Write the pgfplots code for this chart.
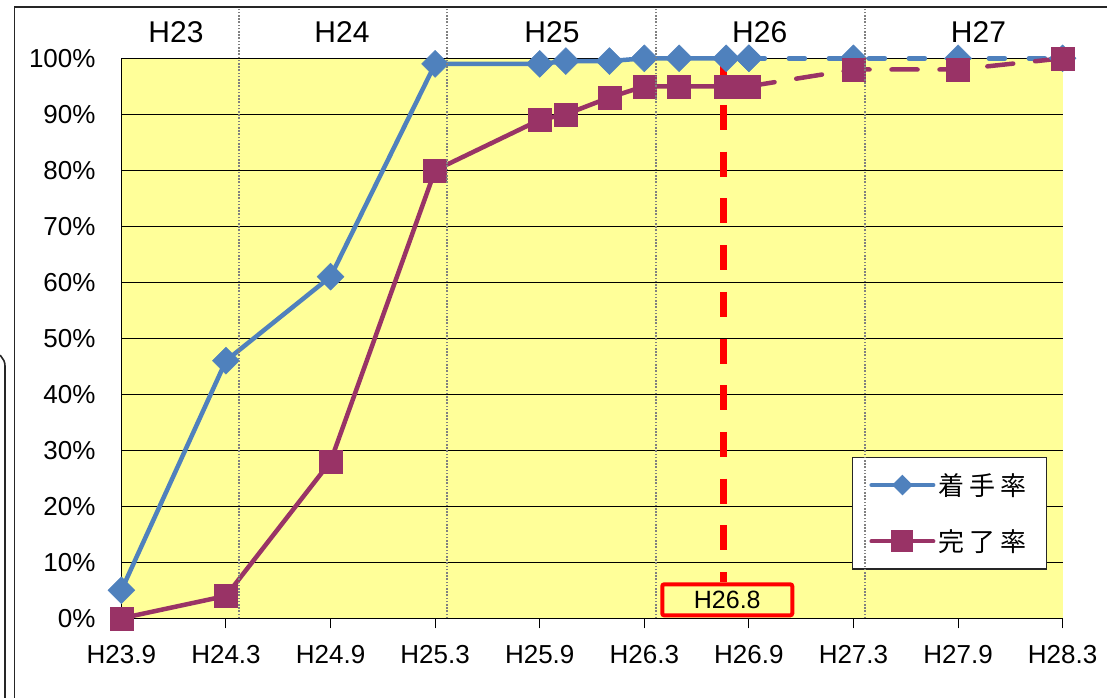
\documentclass[border=0pt]{standalone}
\usepackage{fontspec}
\setmainfont{Liberation Sans}
\newfontfamily\jpfont{Noto Sans CJK JP}
\usepackage{pgfplots}
\pgfplotsset{compat=1.18}

\definecolor{plotbg}{HTML}{FFFF99}
\definecolor{startc}{HTML}{4F81BD}
\definecolor{donec}{HTML}{993366}
\definecolor{framec}{HTML}{262626}

% x = months counted from H23.9
\pgfplotstableread{
m     rate
0     5
6     46
12    61
18    99
24    99
25.5  99.5
28    99.5
30    100
32    100
34.7  100
36    100
}\startdone
\pgfplotstableread{
m     rate
36    100
42    100
48    100
54    100
}\startplan
\pgfplotstableread{
m     rate
0     0
6     4
12    28
18    80
24    89
25.5  90
28    93
30    95
32    95
34.7  95
36    95
}\finishdone
\pgfplotstableread{
m     rate
36    95
42    98
48    98
54    100
}\finishplan

\begin{document}
\begin{tikzpicture}[x=1pt,y=1pt]
\useasboundingbox (0,0) rectangle (1107,697);
% surrounding frame
\draw[framec, line width=1.6pt] (14.3,-5) -- (14.3,689.7) -- (1115,689.7);
\draw[framec, line width=1.6pt, rounded corners=14pt] (-30,345) -- (5,345) -- (5,-20);

\begin{axis}[
  at={(121.4pt,78.7pt)}, anchor=south west,
  scale only axis, width=941.2pt, height=560pt,
  xmin=0, xmax=54, ymin=0, ymax=100,
  clip=false,
  axis background/.style={fill=plotbg},
  axis x line*=bottom, axis y line*=left,
  x axis line style={-, line width=1.3pt, black},
  y axis line style={-, line width=1.3pt, black},
  xtick={0,6,...,54},
  xticklabels={H23.9,H24.3,H24.9,H25.3,H25.9,H26.3,H26.9,H27.3,H27.9,H28.3},
  ytick={0,10,...,100},
  yticklabels={0\%,10\%,20\%,30\%,40\%,50\%,60\%,70\%,80\%,90\%,100\%},
  xtick align=outside, ytick align=inside,
  major tick length=10pt,
  xtick style={black, line width=1pt},
  ytick style={draw=none},
  ymajorgrids, grid style={black, line width=1.3pt},
  tick label style={font=\fontsize{26}{30}\selectfont},
  yticklabel style={inner sep=0pt, anchor=east, xshift=-25.7pt},
  xticklabel style={inner sep=0pt, anchor=north, yshift=-16.7pt},
  legend style={at={(0.776,0.2886)}, anchor=north west,
    draw=framec, line width=1.3pt, fill=white,
    font=\jpfont\fontsize{26}{30}\selectfont,
    inner xsep=17pt, inner ysep=13pt, row sep=27pt,
    nodes={inner sep=3pt}},
  legend cell align=left,
]
\addplot[startc, line width=4.5pt, mark=square*, mark size=9.5pt,
  mark options={solid, rotate=45, line width=0.5pt},
  legend image code/.code={\draw[startc, line width=4pt, line cap=round, mark=square*, mark size=5.3pt,
    mark options={solid, rotate=45}, mark repeat=2, mark phase=2]
    plot coordinates {(0pt,0pt) (31pt,0pt) (62pt,0pt)};}]
  table[x=m, y=rate] {\startdone};
\addlegendentry{着\hspace{5pt}手\hspace{5pt}率}
\addplot[startc, line width=4.5pt, line cap=round, dash pattern=on 16pt off 24pt,
  mark=square*, mark size=9.5pt, mark options={solid, rotate=45, line width=0.5pt},
  forget plot]
  table[x=m, y=rate] {\startplan};
\addplot[donec, line width=4.5pt, mark=square*, mark size=11.5pt,
  mark options={solid, line width=0.5pt},
  legend image code/.code={\draw[donec, line width=4pt, line cap=round, mark=square*, mark size=9pt,
    mark options={solid}, mark repeat=2, mark phase=2]
    plot coordinates {(0pt,0pt) (31pt,0pt) (62pt,0pt)};}]
  table[x=m, y=rate] {\finishdone};
\addlegendentry{完\hspace{5pt}了\hspace{5pt}率}
\addplot[donec, line width=4.5pt, line cap=round, dash pattern=on 26pt off 22pt,
  mark=square*, mark size=11.5pt, mark options={solid, line width=0.5pt},
  forget plot]
  table[x=m, y=rate] {\finishplan};

% H26.8 marker line and its label
\addplot[red, line width=6.5pt, dash pattern=on 25pt off 21.7pt, forget plot]
  coordinates {(34.55,100) (34.55,6.4)};
\node[draw=red, line width=4pt, rounded corners=2pt, minimum width=130pt,
  minimum height=31pt, inner sep=0pt, font=\fontsize{25}{30}\selectfont]
  at (axis cs:34.76,3.3) {H26.8};
\end{axis}

% fiscal-year separators, drawn over the legend
\begin{axis}[
  at={(121.4pt,78.7pt)}, anchor=south west,
  scale only axis, width=941.2pt, height=560pt,
  xmin=0, xmax=54, ymin=0, ymax=100,
  hide axis, clip=false,
]
\draw[gray, line width=2pt, dash pattern=on 1.6pt off 1.6pt]
  (axis cs:6.77,0) -- (axis cs:6.77,109.1);
\draw[gray, line width=2pt, dash pattern=on 1.6pt off 1.6pt]
  (axis cs:18.66,0) -- (axis cs:18.66,109.1);
\draw[gray, line width=2pt, dash pattern=on 1.6pt off 1.6pt]
  (axis cs:30.66,0) -- (axis cs:30.66,109.1);
\draw[gray, line width=2pt, dash pattern=on 1.6pt off 1.6pt]
  (axis cs:42.64,0) -- (axis cs:42.64,109.1);
\end{axis}

% fiscal-year headings
\begin{scope}[every node/.style={font=\fontsize{30}{36}\selectfont, inner sep=0pt}]
\node at (176,664.5) {H23};
\node at (342,664.5) {H24};
\node at (552,664.5) {H25};
\node at (759.7,664.5) {H26};
\node at (978.5,664.5) {H27};
\end{scope}
\end{tikzpicture}
\end{document}
